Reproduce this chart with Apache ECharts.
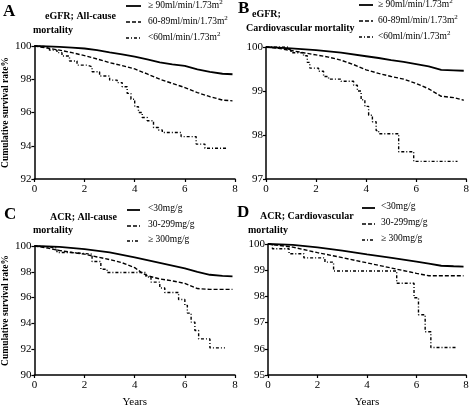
<!DOCTYPE html>
<html><head><meta charset="utf-8">
<script src="https://cdn.jsdelivr.net/npm/echarts@6/dist/echarts.min.js"></script>
<style>html,body{margin:0;padding:0;background:#fff}#c{width:472px;height:409px}</style>
</head><body><div id="c"></div>
<script>
// ---- data ----
var xTicks = [0, 2, 4, 6, 8];
var panelLetters = ['A', 'B', 'C', 'D'];
var legendEGFR = ['≥ 90ml/min/1.73m', '60-89ml/min/1.73m', '<60ml/min/1.73m'];
var legendACR = ['<30mg/g', '30-299mg/g', '≥ 300mg/g'];
var yRangeA = [92, 100, 2];
var yRangeB = [97, 100, 1];
var yRangeC = [90, 100, 2];
var yRangeD = [95, 100, 1];

var A_ge90 = [[0,100],[0.5,99.98],[1,99.95],[1.5,99.9],[2,99.85],[2.5,99.75],[3,99.62],[3.5,99.5],[4,99.36],[4.5,99.2],[5,99.02],[5.5,98.9],[6,98.8],[6.5,98.6],[7,98.45],[7.5,98.33],[7.9,98.3]];
var A_60 = [[0,100],[0.5,99.88],[1,99.75],[1.5,99.6],[2,99.42],[2.5,99.22],[3,99.0],[3.5,98.82],[4,98.62],[4.5,98.32],[5,98.0],[5.5,97.75],[6,97.5],[6.5,97.2],[7,96.95],[7.5,96.75],[7.9,96.7]];
var A_lt60 = [[0,100],[0.3,99.9],[0.6,99.75],[0.9,99.6],[1.1,99.4],[1.4,99.1],[1.7,98.85],[2.1,98.75],[2.3,98.45],[2.6,98.2],[3.0,97.95],[3.3,97.8],[3.5,97.55],[3.7,97.15],[3.85,96.8],[4.0,96.35],[4.15,96.0],[4.3,95.7],[4.5,95.5],[4.75,95.1],[4.95,94.95],[5.1,94.8],[5.85,94.55],[6.45,94.1],[6.8,93.85],[7.7,93.85]];

var B_ge90 = [[0,100],[1,99.97],[2,99.93],[3,99.87],[4,99.79],[4.5,99.75],[5,99.7],[5.5,99.66],[6,99.61],[6.5,99.56],[7,99.48],[7.5,99.47],[7.9,99.46]];
var B_60 = [[0,100],[0.5,99.97],[1,99.92],[1.5,99.87],[2,99.82],[2.5,99.77],[3,99.7],[3.5,99.6],[4,99.48],[4.5,99.4],[5,99.33],[5.5,99.27],[6,99.17],[6.5,99.05],[7,98.88],[7.5,98.85],[7.9,98.79]];
var B_lt60 = [[0,100],[0.9,99.95],[1.0,99.87],[1.5,99.8],[1.65,99.65],[1.75,99.52],[2.1,99.45],[2.3,99.33],[2.5,99.27],[3.0,99.22],[3.5,99.13],[3.65,99.0],[3.8,98.8],[3.95,98.65],[4.1,98.45],[4.25,98.3],[4.4,98.1],[4.5,98.03],[5.3,97.62],[5.9,97.4],[7.65,97.4]];

var C_lt30 = [[0,100],[1,99.93],[2,99.75],[3,99.5],[4,99.12],[5,98.7],[6,98.27],[6.5,98.0],[7,97.77],[7.5,97.68],[7.9,97.65]];
var C_30 = [[0,100],[0.5,99.85],[1,99.65],[1.5,99.5],[2,99.37],[2.5,99.15],[3,98.95],[3.5,98.7],[4,98.32],[4.3,97.9],[4.5,97.7],[5,97.45],[5.5,97.3],[6,97.1],[6.5,96.7],[7,96.64],[7.9,96.64]];
var C_300 = [[0,100],[0.2,99.85],[0.9,99.5],[1.5,99.37],[2.3,98.8],[2.65,98.2],[2.9,97.95],[4.45,97.6],[4.65,97.2],[5.0,96.75],[5.2,96.4],[5.75,95.85],[6.0,95.4],[6.1,94.8],[6.25,94.1],[6.4,93.45],[6.55,92.8],[7.0,92.1],[7.6,92.1]];

var D_lt30 = [[0,100],[1,99.97],[2,99.87],[3,99.75],[4,99.6],[5,99.47],[6,99.33],[6.5,99.25],[7,99.17],[7.5,99.15],[7.9,99.14]];
var D_30 = [[0,100],[1,99.88],[2,99.67],[3,99.48],[4,99.28],[5,99.08],[5.5,98.98],[6,98.88],[6.5,98.79],[7.9,98.79]];
var D_300 = [[0,100],[0.18,99.82],[0.85,99.63],[1.45,99.47],[2.3,99.31],[2.65,98.97],[5.2,98.5],[5.9,97.95],[6.08,97.3],[6.35,96.65],[6.58,96.05],[7.65,96.05]];

// ---- chart ----
var FONT = 'Liberation Serif';
var grids = [
  {left: 34, top: 46, width: 201, height: 133},
  {left: 266, top: 47, width: 201, height: 132},
  {left: 34, top: 246, width: 201, height: 133},
  {left: 268, top: 244, width: 198, height: 133}
];
var yRanges = [yRangeA, yRangeB, yRangeC, yRangeD];
var axisLine = {show: true, lineStyle: {color: '#000', width: 1.5}};
var axisTick = {show: true, inside: false, length: 3, lineStyle: {color: '#000', width: 1.2}};
var lbl = {color: '#000', fontFamily: FONT, fontSize: 11};

var xAxes = grids.map(function (g, i) {
  return {type: 'value', gridIndex: i, min: 0, max: 8, interval: 2, axisLine: axisLine, axisTick: axisTick,
    axisLabel: Object.assign({margin: 5}, lbl), splitLine: {show: false},
    name: i >= 2 ? 'Years' : '', nameLocation: 'middle', nameGap: 22,
    nameTextStyle: {color: '#000', fontFamily: FONT, fontSize: 11}};
});
var yAxes = grids.map(function (g, i) {
  var r = yRanges[i];
  return {type: 'value', gridIndex: i, min: r[0], max: r[1], interval: r[2], axisLine: axisLine, axisTick: axisTick,
    axisLabel: Object.assign({margin: 3}, lbl), splitLine: {show: false},
    name: (i === 0 || i === 2) ? 'Cumulative survival rate%' : '', nameLocation: 'middle', nameGap: 23,
    nameTextStyle: {color: '#000', fontFamily: FONT, fontSize: 9.5, fontWeight: 'bold'}};
});

var solid = {color: '#000', width: 1.8, type: 'solid'};
var dashed = {color: '#000', width: 1.4, type: [4, 2]};
var dashdot = {color: '#000', width: 1.4, type: [3, 2, 1, 2]};
function ser(i, data, style, step) {
  return {type: 'line', xAxisIndex: i, yAxisIndex: i, data: data, showSymbol: false, symbol: 'none',
    step: step ? 'end' : false, lineStyle: style, silent: true, animation: false};
}
var series = [
  ser(0, A_ge90, solid), ser(0, A_60, dashed), ser(0, A_lt60, dashdot, true),
  ser(1, B_ge90, solid), ser(1, B_60, dashed), ser(1, B_lt60, dashdot, true),
  ser(2, C_lt30, solid), ser(2, C_30, dashed), ser(2, C_300, dashdot, true),
  ser(3, D_lt30, solid), ser(3, D_30, dashed), ser(3, D_300, dashdot, true)
];

var graphic = [];
function txt(x, y, s, size, bold, extra) {
  graphic.push({type: 'text', left: x, top: y, silent: true,
    style: Object.assign({text: s, fill: '#000', font: (bold ? 'bold ' : '') + size + 'px "' + FONT + '"'}, extra || {})});
}
// panel letters
var letterPos = [[3, 3], [238, 0], [4, 206], [237, 204]];
panelLetters.forEach(function (L, i) { txt(letterPos[i][0], letterPos[i][1], L, 17, true); });
// titles
txt(45, 11, 'eGFR; All-cause', 10, true);
txt(33, 25, 'mortality', 10, true);
txt(252, 9, 'eGFR;', 10, true);
txt(246, 23, 'Cardiovascular mortality', 10, true);
txt(50, 212, 'ACR; All-cause', 10, true);
txt(33, 225, 'mortality', 10, true);
txt(260, 211, 'ACR; Cardiovascular', 10, true);
txt(248, 225, 'mortality', 10, true);

// legends
var dashes = [null, [4, 2], [3, 2, 1, 2]];
var widths = [1.8, 1.4, 1.4];
function legend(x0, x1, tx, ys, labels, sup) {
  labels.forEach(function (s, k) {
    graphic.push({type: 'line', silent: true, shape: {x1: x0, y1: ys[k], x2: x1, y2: ys[k]},
      style: {stroke: '#000', lineWidth: widths[k], lineDash: dashes[k]}});
    graphic.push({type: 'text', silent: true, left: tx, top: ys[k] - 7,
      style: {text: sup ? '{a|' + s + '}{s|2}' : s,
        rich: {a: {fontFamily: FONT, fontSize: 9.5, fill: '#000', color: '#000'},
               s: {fontFamily: FONT, fontSize: 7, fill: '#000', color: '#000', padding: [0, 0, 6, 0]}},
        font: '9.5px "' + FONT + '"', fill: '#000'}});
  });
}
legend(126, 141, 148, [6, 22, 38], legendEGFR, true);
legend(359, 373, 378, [5, 21, 37], legendEGFR, true);
legend(127, 140, 148, [210, 226, 241], legendACR, false);
legend(362, 375, 381, [208, 224, 240], legendACR, false);

var chart = echarts.init(document.getElementById('c'), null, {renderer: 'canvas'});
chart.setOption({
  backgroundColor: '#fff',
  animation: false,
  grid: grids,
  xAxis: xAxes,
  yAxis: yAxes,
  series: series,
  graphic: graphic
});
</script>
</body></html>
